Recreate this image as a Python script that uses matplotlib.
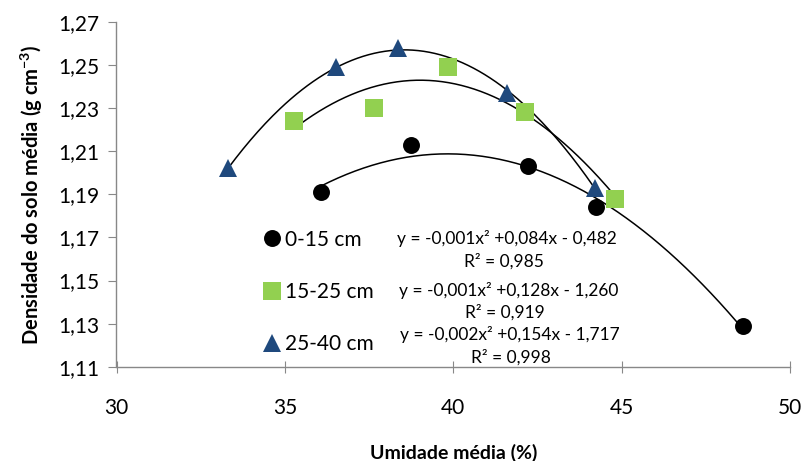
import numpy as np
import matplotlib
matplotlib.use("Agg")
import matplotlib.pyplot as plt
from matplotlib.ticker import FuncFormatter

plt.rcParams['font.family'] = ['Lato', 'DejaVu Sans']
plt.rcParams['mathtext.fontset'] = 'custom'
plt.rcParams['mathtext.rm'] = 'Lato'
plt.rcParams['mathtext.bf'] = 'Lato:bold'

# umidade media (%) and densidade (g cm-3) per layer
x_0_15 = [36.08, 38.76, 42.23, 44.23, 48.60]
y_0_15 = [1.191, 1.213, 1.203, 1.184, 1.129]
x_15_25 = [35.26, 37.66, 39.84, 42.13, 44.80]
y_15_25 = [1.224, 1.230, 1.249, 1.228, 1.188]
x_25_40 = [33.32, 36.53, 38.37, 41.59, 44.22]
y_25_40 = [1.202, 1.249, 1.258, 1.237, 1.193]

labels = ['0-15 cm', '15-25 cm', '25-40 cm']
equations = ['y = -0,001x² +0,084x - 0,482', 'y = -0,001x² +0,128x - 1,260',
             'y = -0,002x² +0,154x - 1,717']
r2_texts = ['R² = 0,985', 'R² = 0,919', 'R² = 0,998']

series = [(x_0_15, y_0_15, 'o', 'black', 12.2),
          (x_15_25, y_15_25, 's', '#92D050', 13.5),
          (x_25_40, y_25_40, '^', '#1F497D', 13.5)]

fig = plt.figure(figsize=(8.03, 4.61), dpi=100)
ax = fig.add_axes([116.5 / 803, 1 - 366.7 / 461, 673.5 / 803, 344.7 / 461])

handles = []
for (xs, ys, mk, col, ms), lab in zip(series, labels):
    h, = ax.plot(xs, ys, linestyle='none', marker=mk, color=col, markersize=ms,
                 markeredgewidth=0, label=lab, zorder=3)
    handles.append(h)
    # polynomial trendline (2nd order)
    c = np.polyfit(xs, ys, 2)
    xx = np.linspace(min(xs), max(xs), 200)
    ax.plot(xx, np.polyval(c, xx), color='black', lw=1.1, zorder=2)

ax.set_xlim(30, 50)
ax.set_ylim(1.11, 1.27)
ax.set_xticks(np.arange(30, 51, 5))
ax.set_yticks(np.arange(1.11, 1.271, 0.02))
ax.yaxis.set_major_formatter(FuncFormatter(lambda v, p: f'{v:.2f}'.replace('.', ',')))

for s in ['top', 'right']:
    ax.spines[s].set_visible(False)
for s in ['left', 'bottom']:
    ax.spines[s].set_color('#888888')
    ax.spines[s].set_linewidth(1.0)
ax.tick_params(axis='y', direction='out', length=6, color='#888888', labelsize=15, pad=6)
ax.tick_params(axis='x', direction='inout', length=9, color='#888888', labelsize=15, pad=18)

ax.set_xlabel('Umidade média (%)', fontsize=14, fontweight='bold', labelpad=19)
ax.set_ylabel('Densidade do solo média (g cm$^{\\mathbf{-3}}$)', fontsize=14.5,
              fontweight='bold', labelpad=10)

leg = ax.legend(handles=handles, loc='upper left', bbox_to_anchor=(0.218, 0.398),
                frameon=False, fontsize=15, handlelength=0.8, handletextpad=0.25,
                borderpad=0, borderaxespad=0, labelspacing=1.55, numpoints=1)

eq_pos = [(0.580, 0.373, 0.576, 0.304), (0.582, 0.222, 0.577, 0.156),
          (0.584, 0.092, 0.585, 0.028)]
for (ex, ey, rx, ry), eq, r2 in zip(eq_pos, equations, r2_texts):
    ax.text(ex, ey, eq, transform=ax.transAxes, ha='center', va='center', fontsize=12.5)
    ax.text(rx, ry, r2, transform=ax.transAxes, ha='center', va='center', fontsize=12.5)

fig.savefig('out.png', dpi=100)
